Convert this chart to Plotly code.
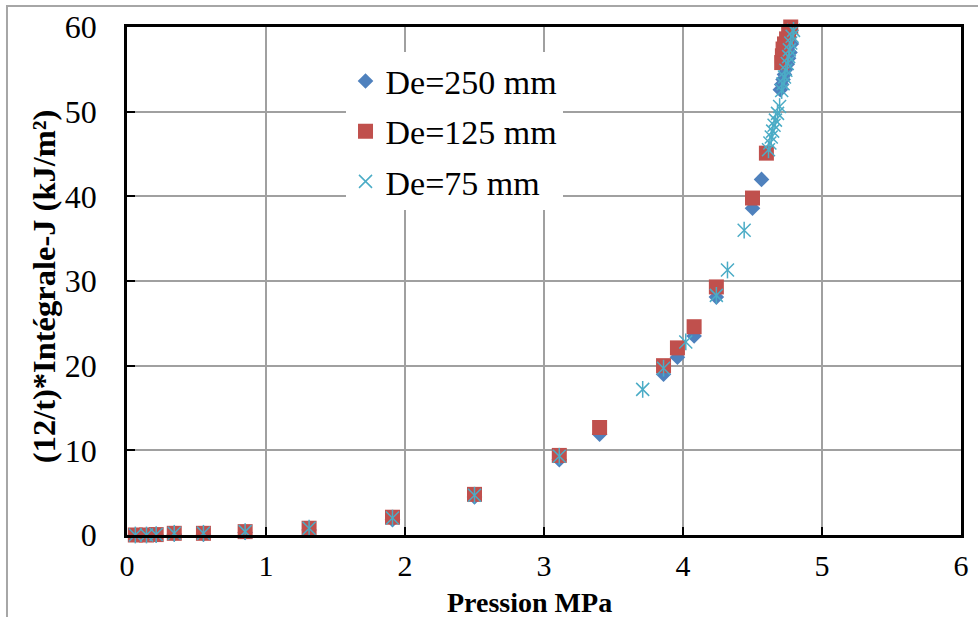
import plotly.graph_objects as go

# ---- data ----
p_250 = [0.06, 0.14, 0.21, 0.34, 0.55, 0.85, 1.31, 1.91, 2.50, 3.11, 3.40, 3.86, 3.96, 4.08, 4.24,
         4.50, 4.565, 4.70, 4.71, 4.72, 4.73, 4.74, 4.75, 4.76, 4.77, 4.78]
j_250 = [0.0, 0.0, 0.0, 0.1, 0.1, 0.3, 0.6, 1.8, 4.5, 8.9, 11.9, 19.0, 21.0, 23.5, 28.1,
         38.6, 42.0, 52.6, 53.2, 53.8, 54.4, 55.0, 55.6, 56.3, 57.0, 58.0]

p_125 = [0.06, 0.14, 0.21, 0.34, 0.55, 0.85, 1.31, 1.91, 2.50, 3.11, 3.40, 3.86, 3.96, 4.08, 4.24,
         4.50, 4.60, 4.71, 4.715, 4.72, 4.73, 4.745, 4.76, 4.775]
j_125 = [0.0, 0.0, 0.05, 0.2, 0.2, 0.4, 0.8, 2.1, 4.8, 9.4, 12.7, 20.0, 22.1, 24.6, 29.3,
         39.8, 45.1, 55.8, 56.6, 57.4, 58.0, 58.6, 59.3, 60.0]

p_75 = [0.06, 0.14, 0.21, 0.34, 0.55, 0.85, 1.31, 1.91, 2.50, 3.11, 3.71, 3.86, 4.02, 4.24, 4.32,
        4.44, 4.615, 4.625, 4.635, 4.645, 4.655, 4.665, 4.68, 4.695, 4.71, 4.72, 4.73, 4.74,
        4.75, 4.76, 4.765, 4.775, 4.785, 4.795, 4.805]
j_75 = [0.0, 0.0, 0.05, 0.2, 0.2, 0.4, 0.8, 2.0, 4.7, 9.3, 17.2, 19.7, 22.8, 28.3, 31.3,
        36.0, 45.5, 46.3, 47.0, 47.7, 48.4, 49.0, 49.8, 50.6, 52.5, 53.3, 54.1, 54.9,
        55.7, 56.5, 57.3, 58.1, 58.9, 59.6, 60.3]

x_ticks = [0, 1, 2, 3, 4, 5, 6]
y_ticks = [0, 10, 20, 30, 40, 50, 60]

names = ["De=250 mm", "De=125 mm", "De=75 mm"]
x_title = "Pression MPa"
y_title = "(12/t)*Intégrale-J (kJ/m²)"

BLUE = "#4F81BD"
RED = "#C0504D"
CYAN = "#4BACC6"
FONT = "Liberation Serif, Times New Roman, serif"

fig = go.Figure()
fig.add_trace(go.Scatter(x=p_250, y=j_250, mode="markers", name=names[0], legendgroup="a",
                         cliponaxis=False,
                         marker=dict(symbol="diamond", size=12, color=BLUE, line=dict(width=0))))
fig.add_trace(go.Scatter(x=p_125, y=j_125, mode="markers", name=names[1], legendgroup="b",
                         cliponaxis=False,
                         marker=dict(symbol="square", size=15, color=RED, line=dict(width=0))))
fig.add_trace(go.Scatter(x=p_75, y=j_75, mode="markers", name=names[2], legendgroup="c",
                         cliponaxis=False,
                         marker=dict(symbol="x-thin-open", size=13, color=CYAN,
                                     line=dict(width=1.5, color=CYAN))))
fig.add_trace(go.Scatter(x=p_75, y=j_75, mode="markers", name=names[2], legendgroup="c",
                         showlegend=False, cliponaxis=False, hoverinfo="skip",
                         marker=dict(symbol="line-ns-open", size=12, color=CYAN,
                                     line=dict(width=1.5, color=CYAN))))

axis_common = dict(
    showgrid=True, gridcolor="#A0A0A0", gridwidth=1.5,
    zeroline=False, showline=True, linecolor="black", linewidth=2.5, mirror=True,
    ticks="inside", ticklen=8, tickwidth=2, tickcolor="black",
    automargin=False,
)

fig.update_xaxes(range=[0, 6], tickvals=x_ticks, ticktext=[str(v) for v in x_ticks],
                 tickfont=dict(family=FONT, size=30, color="black"),
                 ticklabelstandoff=2, **axis_common)
fig.update_yaxes(range=[0, 60], tickvals=y_ticks, ticktext=[str(v) for v in y_ticks],
                 tickfont=dict(family=FONT, size=32, color="black"),
                 ticklabelstandoff=21, **axis_common)

fig.update_layout(
    width=978, height=617,
    margin=dict(l=127, r=17, t=27, b=82, autoexpand=False),
    paper_bgcolor="white", plot_bgcolor="white",
    font=dict(family=FONT, color="black"),
    showlegend=True,
    legend=dict(x=0.262, y=0.95, xanchor="left", yanchor="top",
                bgcolor="white", borderwidth=0,
                traceorder="grouped", tracegroupgap=3,
                font=dict(family=FONT, size=34, color="black")),
    annotations=[
        dict(text="<b>" + x_title + "</b>", xref="paper", yref="paper",
             x=0.483, y=-0.132, xanchor="center", yanchor="middle", showarrow=False,
             font=dict(family=FONT, size=28, color="black")),
        dict(text="<b>" + y_title + "</b>", xref="paper", yref="paper",
             x=-0.1, y=0.489, xanchor="center", yanchor="middle", showarrow=False,
             textangle=-90, font=dict(family=FONT, size=32.5, color="black")),
    ],
    shapes=[dict(type="rect", xref="paper", yref="paper",
                 x0=-0.1439, y0=-0.3, x1=1.2, y1=1.0413,
                 line=dict(color="#A6A6A6", width=2), layer="below")],
)

fig.write_html("out.html", config={"displayModeBar": False},
               post_script="document.body.style.margin='0';")
